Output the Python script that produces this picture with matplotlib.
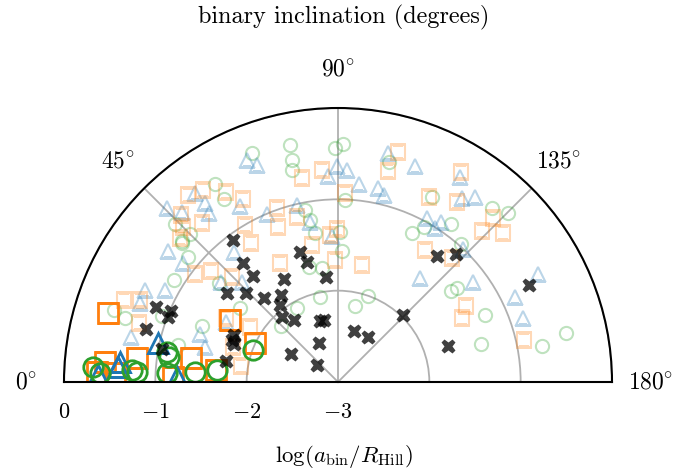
import numpy as np
import matplotlib
matplotlib.use("Agg")
import matplotlib.pyplot as plt

plt.rcParams['font.family'] = 'serif'
plt.rcParams['font.serif'] = ['cmr10']
plt.rcParams['mathtext.fontset'] = 'cm'
plt.rcParams['axes.unicode_minus'] = False

# inclination (deg), log(a_bin/R_Hill)
cross_inc = [53.5, 51.4, 51.3, 62.3, 73.7, 75.5, 83.5, 38.7, 44.0, 48.6, 56.8, 53.0,
             49.3, 54.6, 73.6, 77.3, 64.0, 30.8, 39.0, 107.4, 123.7, 134.1, 128.2,
             132.7, 153.1, 161.9, 22.4, 23.0, 20.9, 15.4, 10.6, 24.3, 21.6, 10.6, 20.1]
cross_loga = [-1.07, -1.33, -1.51, -1.73, -1.52, -1.64, -1.84, -1.44, -1.60, -1.77, -1.86, -1.94,
              -2.06, -2.17, -2.30, -2.30, -2.52, -2.40, -2.70, -2.41, -2.41, -1.98, -1.25,
              -1.09, -0.65, -1.73, -0.85, -1.01, -1.01, -0.82, -1.04, -1.75, -1.75, -1.75, -1.79]

green_inc = [69.4, 58.2, 58.1, 44.1, 45.0, 42.1, 41.8, 39.8, 31.9, 39.8, 78.5, 78.3, 77.8,
             89.3, 91.2, 79.1, 81.2, 80.2, 75.8, 82.0, 90.8, 91.7, 92.2, 103.0, 116.9, 116.4,
             119.0, 125.6, 131.5, 135.2, 131.7, 141.2, 141.7, 109.2, 102.6, 155.5, 165.1, 170.0,
             167.9, 78.0, 61.0, 44.5, 37.1, 17.8, 16.7, 22.4, 13.0, 20.6]
green_loga = [-0.32, -0.45, -0.64, -0.51, -0.71, -0.70, -0.71, -0.86, -0.89, -1.31, -0.35, -0.52, -0.62,
              -0.44, -0.39, -1.08, -1.35, -1.20, -1.70, -1.74, -1.36, -1.56, -1.01, -0.53, -0.73, -1.18,
              -1.06, -0.87, -0.46, -0.38, -0.98, -1.41, -1.34, -2.00, -2.15, -1.23, -1.38, -0.73,
              -0.45, -2.05, -2.07, -2.13, -1.66, -0.42, -0.56, -1.39, -1.20, -0.94]

blue_inc = [67.7, 69.5, 52.9, 53.4, 52.6, 45.5, 47.5, 60.9, 67.1, 77.0, 80.1, 89.7, 92.4, 87.2,
            37.6, 51.3, 37.5, 25.5, 40.5, 46.2, 87.6, 102.3, 109.6, 96.1, 101.7, 103.8, 120.8,
            124.0, 126.5, 118.5, 122.8, 122.2, 133.2, 128.3, 143.5, 151.6, 154.4, 160.9, 28.0,
            21.8, 12.3, 19.2, 14.7, 28.2]
blue_loga = [-0.37, -0.46, -0.40, -0.56, -0.67, -0.33, -0.47, -0.79, -1.00, -1.01, -1.22, -0.64, -0.68, -0.74,
             -0.65, -1.18, -0.86, -0.66, -1.31, -1.48, -1.40, -0.43, -0.49, -0.82, -0.83, -0.89, -0.39,
             -0.57, -0.48, -0.96, -0.92, -1.01, -1.00, -1.55, -1.16, -0.51, -0.85, -0.86, -0.86,
             -0.67, -0.68, -1.40, -1.49, -1.61]

orange_inc = [51.3, 54.9, 59.5, 62.6, 46.8, 45.0, 49.5, 42.3, 59.4, 58.0, 70.7, 68.8, 80.0, 85.7,
              76.0, 79.3, 64.0, 89.6, 86.9, 88.6, 37.1, 41.2, 44.7, 92.1, 104.6, 103.3, 116.2, 120.4,
              123.5, 133.4, 133.6, 137.9, 123.4, 132.6, 101.6, 149.3, 152.7, 167.3, 21.0, 22.5, 16.5,
              32.0, 18.4, 9.4, 29.7]
orange_loga = [-0.38, -0.43, -0.58, -0.74, -0.49, -0.60, -0.71, -0.66, -1.00, -1.20, -0.98, -1.18, -0.73, -0.67,
               -1.14, -1.47, -1.55, -1.32, -1.39, -1.66, -1.04, -1.15, -1.37, -0.93, -0.40, -0.63, -0.74, -0.34,
               -0.64, -0.53, -0.72, -0.57, -1.27, -1.16, -1.69, -1.37, -1.47, -0.91, -0.49, -0.65, -0.73,
               -1.86, -1.79, -1.92, -1.59]

# the bright ones (near the midplane)
orange2_inc = [16.7, 29.9, 25.2, 4.9, 6.8, 9.3, 5.6, 1.7, 2.3, 2.4]
orange2_loga = [-0.37, -1.64, -2.00, -0.44, -0.78, -1.37, -1.66, -1.19, -0.56, -0.36]
green2_inc = [3.5, 2.2, 3.3, 2.8, 10.0, 8.4, 3.0, 4.0, 5.7, 20.6]
green2_loga = [-0.31, -0.39, -0.74, -0.80, -1.10, -1.13, -1.12, -1.43, -1.67, -2.01]
blue2_inc = [5.2, 3.9, 1.7, 12.2, 1.8]
blue2_loga = [-0.60, -0.59, -0.37, -0.98, -1.24]

fig = plt.figure(figsize=(6.88, 4.71), dpi=100)
# square box, the half disc is fitted into it
ax = fig.add_axes([64 / 688, -48 / 471, 548 / 688, 548 / 471], projection='polar')
ax.set_theta_zero_location('W')
ax.set_theta_direction(-1)
ax.set_thetamin(0)
ax.set_thetamax(180)
ax.set_rlim(-3, 0)

d2r = np.pi / 180
ax.plot(np.array(green_inc) * d2r, green_loga, 'o', color='tab:green', mfc='none', ms=9.5, mew=1.5, alpha=0.3)
ax.plot(np.array(blue_inc) * d2r, blue_loga, '^', color='tab:blue', mfc='none', ms=9.5, mew=1.5, alpha=0.3)
ax.plot(np.array(orange_inc) * d2r, orange_loga, 's', color='tab:orange', mfc='none', ms=9.5, mew=1.5, alpha=0.3)

ax.plot(np.array(orange2_inc) * d2r, orange2_loga, 's', color='tab:orange', mfc='none', ms=14, mew=2)
ax.plot(np.array(blue2_inc) * d2r, blue2_loga, '^', color='tab:blue', mfc='none', ms=14, mew=2)
ax.plot(np.array(green2_inc) * d2r, green2_loga, 'o', color='tab:green', mfc='none', ms=14, mew=2)

ax.plot(np.array(cross_inc) * d2r, cross_loga, 'X', color='k', mec='none', ms=10.5, alpha=0.75)

ax.set_thetagrids([0, 45, 90, 135, 180],
                  ['$0\\!^\\circ$', '$45\\!^\\circ$', '$90\\!^\\circ$', '$135\\!^\\circ$', '$180\\!^\\circ$'])
ax.set_rgrids([-3, -2, -1, 0], ['$-3$', '$-2$', '$-1$', '$0$'])
ax.grid(True, color='#b0b0b0', lw=1.3)
ax.tick_params(axis='x', pad=17, labelsize=17)
ax.tick_params(axis='y', length=0, pad=15, labelsize=16)
for s in ax.spines.values():
    s.set_color('k')
    s.set_linewidth(1.5)

fig.text(0.5, 0.962, 'binary inclination (degrees)', ha='center', va='center', fontsize=17.5)
fig.text(0.5, 0.03, '$\\log(a_{\\rm bin}/R_{\\rm Hill})$', ha='center', va='center', fontsize=16.5)

fig.savefig('out.png', dpi=100)
